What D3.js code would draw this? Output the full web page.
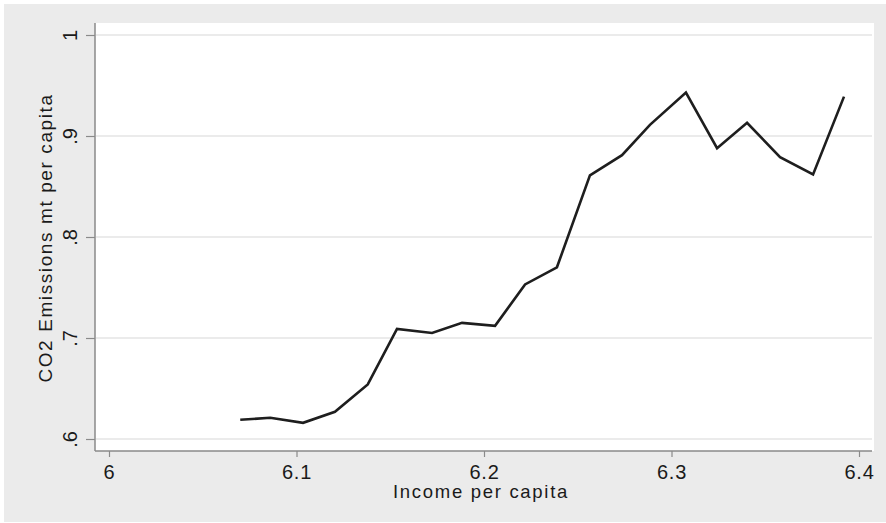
<!DOCTYPE html>
<html>
<head>
<meta charset="utf-8">
<script src="https://cdn.jsdelivr.net/npm/d3@7"></script>
<style>
  html, body { margin: 0; padding: 0; background: #ffffff; }
  svg { display: block; }
  text { font-family: "Liberation Sans", Arial, sans-serif; fill: #1a1a1a; }
</style>
</head>
<body>
<svg id="chart" width="886" height="523"></svg>
<script>
// Data
const income = [6.070, 6.086, 6.1035, 6.1205, 6.138, 6.1536, 6.1723, 6.1883, 6.2059, 6.2219,
                6.2389, 6.2565, 6.2736, 6.2885, 6.3077, 6.3243, 6.3403, 6.3579, 6.3755, 6.3920];
const co2 = [0.619, 0.621, 0.616, 0.627, 0.654, 0.709, 0.705, 0.715, 0.712, 0.753,
             0.770, 0.861, 0.881, 0.911, 0.943, 0.888, 0.913, 0.879, 0.862, 0.939];
const xTicks = [6, 6.1, 6.2, 6.3, 6.4];
const xTickLabels = ["6", "6.1", "6.2", "6.3", "6.4"];
const yTicks = [0.6, 0.7, 0.8, 0.9, 1];
const yTickLabels = [".6", ".7", ".8", ".9", "1"];
const xTitle = "Income per capita";
const yTitle = "CO2 Emissions mt per capita";

const svg = d3.select("#chart");
const W = 886, H = 523;

// outer background
svg.append("rect").attr("x", 4).attr("y", 4).attr("width", W - 4).attr("height", H - 5)
  .attr("fill", "#ebebeb");

// plot region
const plotLeft = 95, plotTop = 23, plotRight = 874, plotBottom = 451;
svg.append("rect").attr("x", plotLeft).attr("y", plotTop)
  .attr("width", plotRight - plotLeft).attr("height", plotBottom - plotTop)
  .attr("fill", "#ffffff");

const x = d3.scaleLinear().domain([6, 6.4]).range([109, 859]);
const y = d3.scaleLinear().domain([0.6, 1]).range([439, 35]);

// gridlines
svg.append("g").selectAll("line").data(yTicks).join("line")
  .attr("x1", plotLeft + 1).attr("x2", 872)
  .attr("y1", d => y(d)).attr("y2", d => y(d))
  .attr("stroke", "#e4e4e4").attr("stroke-width", 1.6);

// x axis
const xAxis = d3.axisBottom(x).tickValues(xTicks)
  .tickFormat((d, i) => xTickLabels[i]).tickSize(6).tickPadding(8).tickSizeOuter(0);
const gx = svg.append("g").attr("transform", `translate(0,${plotBottom})`).call(xAxis);
gx.select(".domain").remove();
gx.append("line").attr("x1", plotLeft).attr("x2", 872).attr("y1", 0).attr("y2", 0)
  .attr("stroke", "#8a8a8a").attr("stroke-width", 1.5);
gx.selectAll(".tick line").attr("stroke", "#8a8a8a").attr("stroke-width", 1.2);
gx.selectAll(".tick text").attr("font-size", 20).attr("fill", "#1a1a1a")
  .attr("font-family", "Liberation Sans, Arial, sans-serif").attr("letter-spacing", 0.8);

// y axis
const yAxis = d3.axisLeft(y).tickValues(yTicks)
  .tickFormat((d, i) => yTickLabels[i]).tickSize(9).tickPadding(4).tickSizeOuter(0);
const gy = svg.append("g").attr("transform", `translate(${plotLeft},0)`).call(yAxis);
gy.select(".domain").remove();
gy.append("line").attr("x1", 0).attr("x2", 0).attr("y1", plotTop).attr("y2", plotBottom)
  .attr("stroke", "#8a8a8a").attr("stroke-width", 1.5);
gy.selectAll(".tick line").attr("stroke", "#8a8a8a").attr("stroke-width", 1.2);
gy.selectAll(".tick text")
  .attr("font-size", 20).attr("fill", "#1a1a1a")
  .attr("font-family", "Liberation Sans, Arial, sans-serif")
  .attr("text-anchor", "middle").attr("x", null)
  .attr("transform", "translate(-25,0) rotate(-90)")
  .attr("dy", "0.35em");

// line
const pts = income.map((d, i) => [d, co2[i]]);
svg.append("path").datum(pts)
  .attr("fill", "none").attr("stroke", "#1e1e1e").attr("stroke-width", 2.6)
  .attr("stroke-linejoin", "miter")
  .attr("d", d3.line().x(d => x(d[0])).y(d => y(d[1])));

// titles
svg.append("text").attr("x", 481).attr("y", 498)
  .attr("text-anchor", "middle").attr("font-size", 18.5).attr("letter-spacing", 1.7)
  .text(xTitle);
svg.append("text").attr("transform", "translate(52,238) rotate(-90)")
  .attr("text-anchor", "middle").attr("font-size", 19).attr("letter-spacing", 1.6)
  .text(yTitle);
</script>
</body>
</html>
